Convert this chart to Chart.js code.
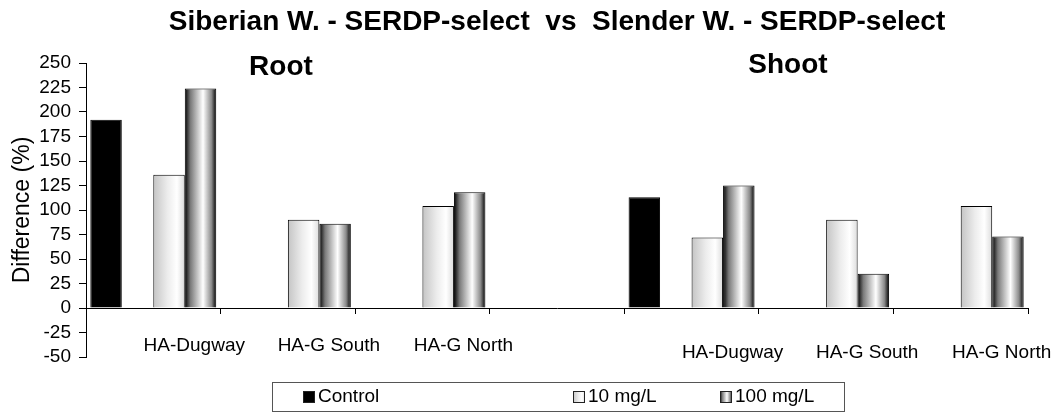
<!DOCTYPE html>
<html>
<head>
<meta charset="utf-8">
<script src="https://cdn.jsdelivr.net/npm/chart.js@4.4.0/dist/chart.umd.min.js"></script>
<style>
  html, body { margin: 0; padding: 0; background: #fff; }
  #wrap { width: 1054px; height: 413px; }
</style>
</head>
<body>
<div id="wrap"><canvas id="chart"></canvas></div>
<script>
// categories: Root block (first three), an empty spacer, then Shoot block
const categories = ['HA-Dugway', 'HA-G South', 'HA-G North', '', 'HA-Dugway', 'HA-G South', 'HA-G North'];
const controlValues = [192, null, null, null, 113, null, null];
const blankValues = [null, null, null, null, null, null, null];
const mg10Values = [136, 90, 104, null, 72, 90, 104];
const mg100Values = [224, 86, 118, null, 125, 35, 73];
const yTickValues = [-50, -25, 0, 25, 50, 75, 100, 125, 150, 175, 200, 225, 250];

const fontFamily = "'Liberation Sans', Arial, sans-serif";

// horizontal shading stops for the cylinder-like bars
const shade10 = [[0, '#c4c4c4'], [0.45, '#ececec'], [0.75, '#ffffff'], [1, '#dcdcdc']];
const shade100 = [[0, '#000000'], [0.18, '#7a7a7a'], [0.58, '#ffffff'], [0.85, '#8a8a8a'], [1, '#000000']];

function gradientFor(ctx, x0, x1, stops) {
    const g = ctx.createLinearGradient(x0, 0, x1, 0);
    stops.forEach(([p, c]) => g.addColorStop(p, c));
    return g;
}

const shadingPlugin = {
    id: 'shading',
    beforeDatasetsDraw(chart) {
        const ctx = chart.ctx;
        chart.data.datasets.forEach((ds, i) => {
            if (!ds.shade) return;
            chart.getDatasetMeta(i).data.forEach(bar => {
                const { x, width } = bar.getProps(['x', 'width'], true);
                if (isNaN(x) || !width) return;
                bar.options.backgroundColor = gradientFor(ctx, x - width / 2, x + width / 2, ds.shade);
            });
        });
    }
};

const annotationPlugin = {
    id: 'annotations',
    afterDraw(chart) {
        const ctx = chart.ctx;
        ctx.save();
        ctx.fillStyle = '#000';
        ctx.textBaseline = 'alphabetic';
        ctx.textAlign = 'center';
        ctx.font = 'bold 28px ' + fontFamily;
        ctx.fillText('Root', 281, 75);
        ctx.fillText('Shoot', 788, 73);

        // legend box
        ctx.strokeStyle = '#555';
        ctx.lineWidth = 1;
        ctx.strokeRect(272.5, 382.5, 572, 29);

        const items = [
            { ds: 0, x: 303 },
            { ds: 2, x: 573 },
            { ds: 3, x: 720 }
        ];
        ctx.font = '19px ' + fontFamily;
        ctx.textAlign = 'left';
        ctx.textBaseline = 'middle';
        items.forEach(it => {
            const ds = chart.data.datasets[it.ds];
            const size = 12;
            const top = 391;
            ctx.fillStyle = ds.shade ? gradientFor(ctx, it.x, it.x + size, ds.shade) : '#000';
            ctx.fillRect(it.x, top, size, size);
            ctx.strokeStyle = '#222';
            ctx.strokeRect(it.x + 0.5, top + 0.5, size - 1, size - 1);
            ctx.fillStyle = '#000';
            ctx.fillText(ds.label, it.x + size + 3, top + size / 2);
        });
        ctx.restore();
    }
};

new Chart(document.getElementById('chart'), {
    type: 'bar',
    data: {
        labels: categories,
        datasets: [
            { label: 'Control', data: controlValues, backgroundColor: () => '#000', borderColor: '#000', borderWidth: 1 },
            { label: '', data: blankValues, backgroundColor: () => 'rgba(0,0,0,0)', borderWidth: 0 },
            { label: '10 mg/L', data: mg10Values, shade: shade10, backgroundColor: () => '#e0e0e0', borderColor: '#000', borderWidth: 1 },
            { label: '100 mg/L', data: mg100Values, shade: shade100, backgroundColor: () => '#c0c0c0', borderColor: '#000', borderWidth: 1 }
        ]
    },
    options: {
        responsive: true,
        maintainAspectRatio: false,
        animation: false,
        categoryPercentage: 0.936,
        barPercentage: 1,
        layout: { padding: { top: 0, left: 0, right: 26, bottom: 56 } },
        plugins: {
            legend: { display: false },
            tooltip: { enabled: false },
            title: {
                display: true,
                fullSize: false,
                text: 'Siberian W. - SERDP-select  vs  Slender W. - SERDP-select',
                color: '#000',
                font: { family: fontFamily, size: 28, weight: 'bold', lineHeight: 1.2 },
                padding: { top: 5, bottom: 24.4 }
            }
        },
        scales: {
            x: {
                position: { y: 0 },
                afterFit: s => { s.height = 0; },
                border: { color: '#000', width: 1 },
                grid: { drawOnChartArea: false, offset: true, tickLength: 5, color: '#000' },
                ticks: {
                    autoSkip: false,
                    maxRotation: 0,
                    minRotation: 0,
                    labelOffset: 41,
                    padding: 21,
                    color: '#000',
                    font: c => ({ family: fontFamily, size: 19, lineHeight: c.index > 3 ? 36.8 / 19 : 1.2 })
                }
            },
            y: {
                min: -50,
                max: 250,
                afterBuildTicks: s => { s.ticks = yTickValues.map(v => ({ value: v })); },
                afterFit: s => { s.width = 86; },
                border: { color: '#000', width: 1 },
                grid: { drawOnChartArea: false, tickLength: 7, color: '#000' },
                ticks: { autoSkip: false, padding: 8, color: '#000', font: { family: fontFamily, size: 19 } },
                title: {
                    display: true,
                    text: 'Difference (%)',
                    color: '#000',
                    font: { family: fontFamily, size: 23 },
                    padding: { top: 9, bottom: 0 }
                }
            }
        }
    },
    plugins: [shadingPlugin, annotationPlugin]
});
</script>
</body>
</html>
